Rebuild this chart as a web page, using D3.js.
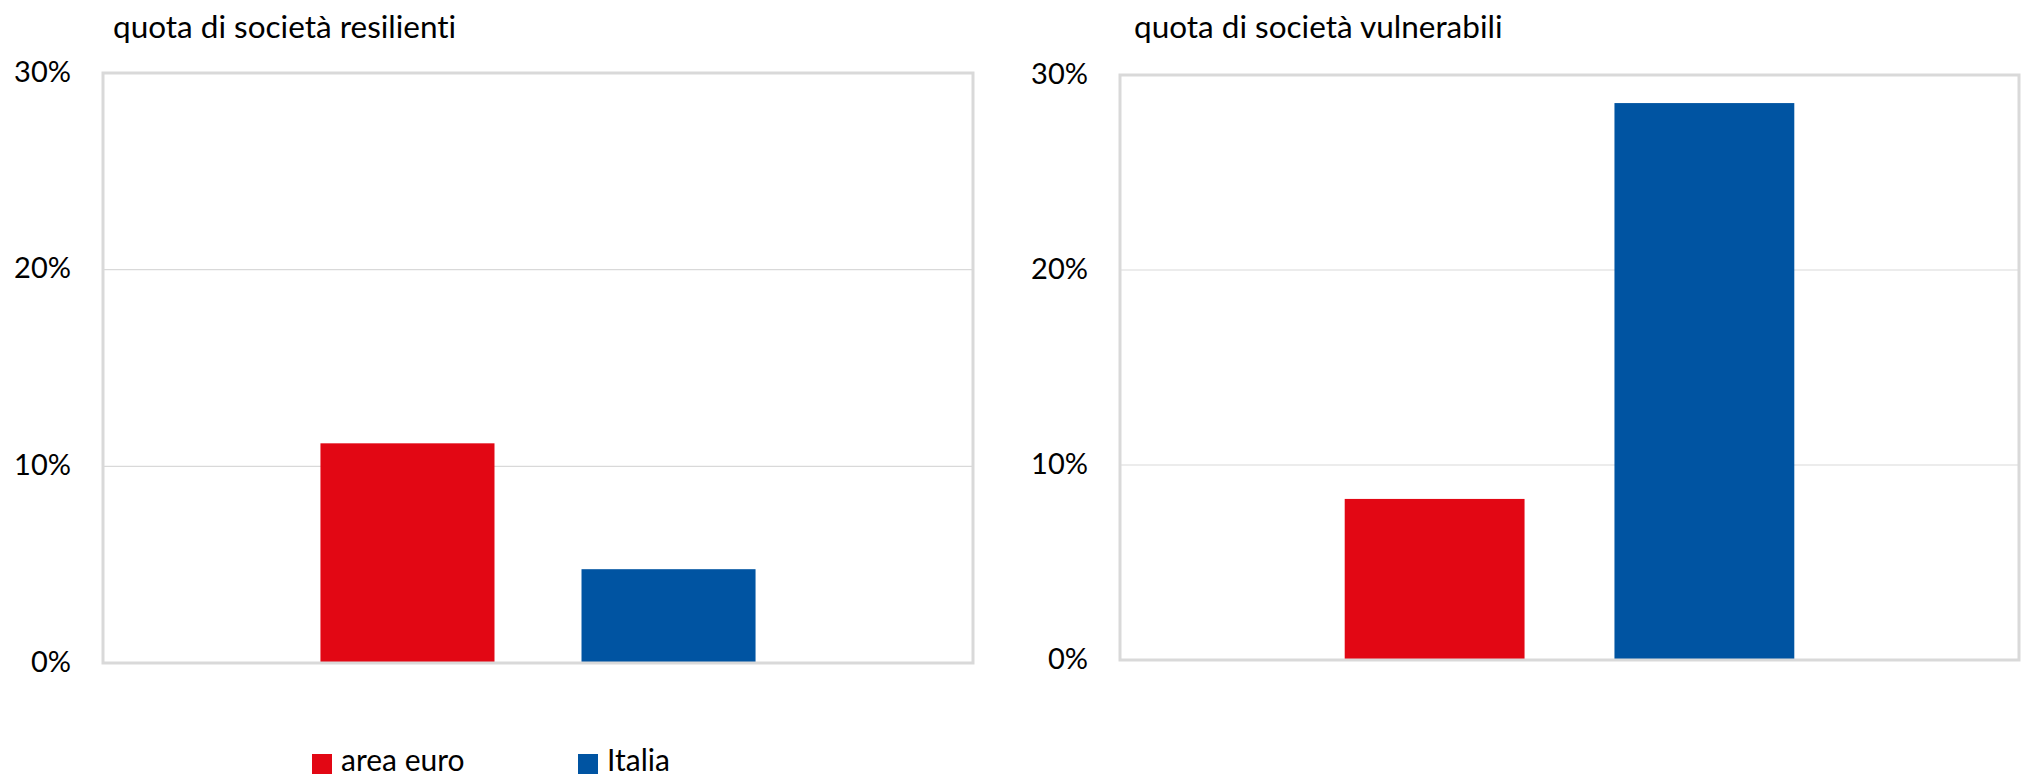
<!DOCTYPE html>
<html>
<head>
<meta charset="utf-8">
<script src="https://cdn.jsdelivr.net/npm/d3@7"></script>
<style>
  html, body { margin: 0; padding: 0; background: #ffffff; }
  svg { display: block; }
  text { font-family: Lato, "Noto Sans", sans-serif; fill: #000; font-variant-ligatures: none; }
</style>
</head>
<body>
<svg id="chart" width="2022" height="779"></svg>
<script>
// Series and panels
const series = ["area euro", "Italia"];
const seriesColors = ["#E20714", "#0054A2"];
const panelTitles = ["quota di società resilienti", "quota di società vulnerabili"];
const resilientValues = [0.1117, 0.0477];
const vulnerableValues = [0.0826, 0.2856];
const yTicks = [0, 0.1, 0.2, 0.3];

const svg = d3.select("#chart");
const fmt = d3.format(".0%");

const panels = [
  { title: panelTitles[0], values: resilientValues, x0: 103, x1: 973, yTop: 73, yBottom: 663, titleX: 113 },
  { title: panelTitles[1], values: vulnerableValues, x0: 1120, x1: 2019, yTop: 75, yBottom: 660, titleX: 1134 }
];

panels.forEach(p => {
  const g = svg.append("g");

  const x = d3.scaleBand()
    .domain(series)
    .range([p.x0, p.x1])
    .paddingInner(1 / 3)
    .paddingOuter(0.833);

  const y = d3.scaleLinear()
    .domain([0, 0.3])
    .range([p.yBottom, p.yTop]);

  // horizontal gridlines
  g.append("g")
    .selectAll("line")
    .data(yTicks.filter(t => t > 0 && t < 0.3))
    .join("line")
    .attr("x1", p.x0).attr("x2", p.x1)
    .attr("y1", d => y(d)).attr("y2", d => y(d))
    .attr("stroke", "#d9d9d9")
    .attr("stroke-width", 1.2);

  // y axis labels
  const axis = d3.axisLeft(y).tickValues(yTicks).tickFormat(fmt).tickSize(0).tickPadding(32);
  const ax = g.append("g")
    .attr("transform", `translate(${p.x0},0)`)
    .call(axis);
  ax.select(".domain").remove();
  ax.selectAll("text")
    .attr("dy", "0.28em")
    .style("font-size", "29px")
    .style("font-family", "Lato, 'Noto Sans', sans-serif")
    .attr("fill", "#000");

  // bars
  g.append("g")
    .selectAll("rect")
    .data(series.map((s, i) => ({ s, v: p.values[i], c: seriesColors[i] })))
    .join("rect")
    .attr("x", d => x(d.s))
    .attr("width", x.bandwidth())
    .attr("y", d => y(d.v))
    .attr("height", d => y(0) - y(d.v))
    .attr("fill", d => d.c);

  // plot frame
  g.append("rect")
    .attr("x", p.x0).attr("y", p.yTop)
    .attr("width", p.x1 - p.x0).attr("height", p.yBottom - p.yTop)
    .attr("fill", "none")
    .attr("stroke", "#d9d9d9")
    .attr("stroke-width", 3);

  // panel title
  g.append("text")
    .attr("x", p.titleX)
    .attr("y", 38)
    .style("font-size", "31.5px")
    .text(p.title);
});

// legend
const legendX = [312, 578];
const legend = svg.append("g")
  .selectAll("g")
  .data(series)
  .join("g")
  .attr("transform", (d, i) => `translate(${legendX[i]},754)`);
legend.append("rect")
  .attr("width", 20).attr("height", 20)
  .attr("fill", (d, i) => seriesColors[i]);
legend.append("text")
  .attr("x", 29).attr("y", 17)
  .style("font-size", "30px")
  .text(d => d);
</script>
</body>
</html>
